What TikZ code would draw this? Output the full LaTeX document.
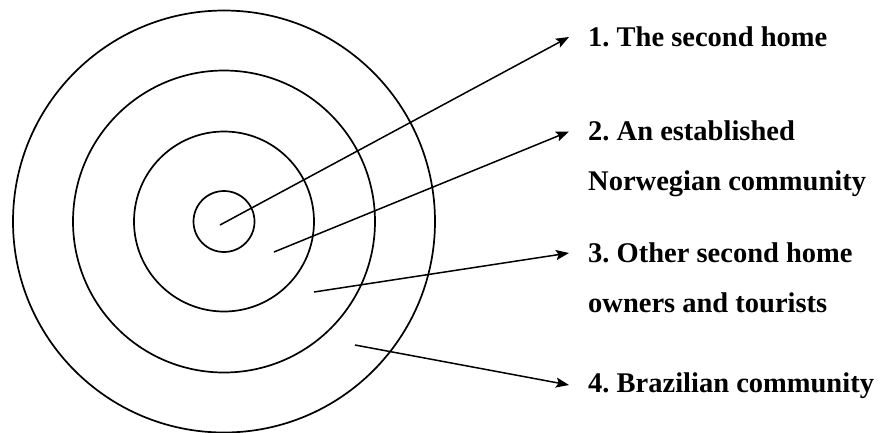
\documentclass[tikz,border=0pt]{standalone}
\usepackage{fontspec}
\setmainfont{Liberation Serif}
\usetikzlibrary{arrows.meta}
\frenchspacing
\begin{document}
\begin{tikzpicture}[x=1pt,y=-1pt,
  ring/.style={draw=black,line width=1.7pt},
  pointer/.style={draw=black,line width=1.5pt,-{Stealth[length=13pt,width=10pt,inset=2.5pt]}},
  label/.style={anchor=base west,inner sep=0pt,align=left,
    font=\fontsize{28.5}{50}\selectfont\bfseries}]
\useasboundingbox (0,0) rectangle (880,432);
\coordinate (c) at (224,221.5);
\node[ring,circle,minimum size=422pt,inner sep=0pt] (r4) at (c) {};
\node[ring,circle,minimum size=302pt,inner sep=0pt] (r3) at (c) {};
\node[ring,circle,minimum size=180pt,inner sep=0pt] (r2) at (c) {};
\node[ring,circle,minimum size=61pt,inner sep=0pt] (r1) at (c) {};
\coordinate (s1) at (220,225);
\coordinate (s2) at (274,252);
\coordinate (s3) at (314,292);
\coordinate (s4) at (355,345);
\node[label] (t1) at (588,46) {1. The second home};
\node[label] (t2) at (588,190) {2. An established\\Norwegian community};
\node[label] (t3) at (588,312) {3. Other second home\\owners and tourists};
\node[label] (t4) at (588,392) {4. Brazilian community};
\draw[pointer] (s1) -- ([shift={(-19,-9)}]t1.base west);
\draw[pointer] (s2) -- ([shift={(-19,-58.5)}]t2.base west);
\draw[pointer] (s3) -- ([shift={(-19,-59)}]t3.base west);
\draw[pointer] (s4) -- ([shift={(-19,-7)}]t4.base west);
\end{tikzpicture}
\end{document}
